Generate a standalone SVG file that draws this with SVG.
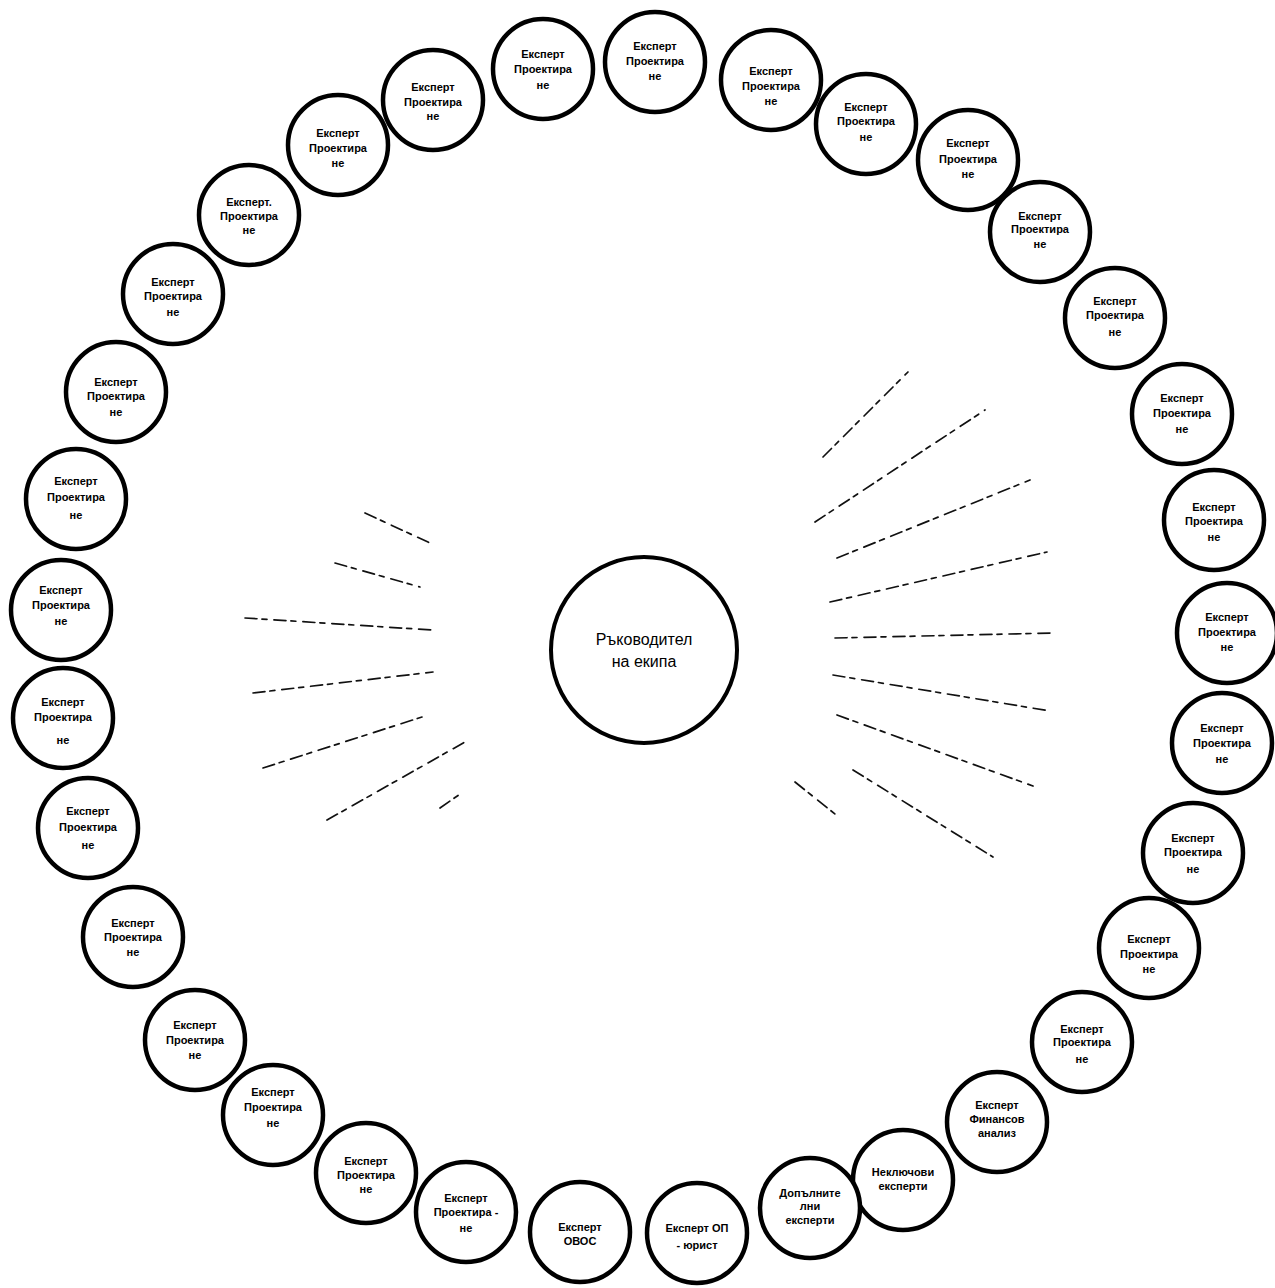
<svg xmlns="http://www.w3.org/2000/svg" width="1275" height="1288" viewBox="0 0 1275 1288">
<style>
.n{fill:#fff;stroke:#000;stroke-width:4.5}
.c{fill:#fff;stroke:#000;stroke-width:4}
.t{font-family:"Liberation Sans","DejaVu Sans",sans-serif;font-size:11px;font-weight:bold;fill:#000;text-anchor:middle}
.ct{font-family:"Liberation Sans","DejaVu Sans",sans-serif;font-size:16px;fill:#000;text-anchor:middle}
.l{stroke:#111;stroke-width:1.7;fill:none;stroke-dasharray:12 5 5 7;stroke-linecap:round}
</style>
<rect width="1275" height="1288" fill="#fff"/>
<g id="connectors">
<line class="l" x1="823" y1="457" x2="908" y2="372"/>
<line class="l" x1="815" y1="522" x2="985" y2="410"/>
<line class="l" x1="837" y1="558" x2="1030" y2="480"/>
<line class="l" x1="830" y1="602" x2="1047" y2="552"/>
<line class="l" x1="835" y1="638" x2="1053" y2="633"/>
<line class="l" x1="833" y1="675" x2="1050" y2="711"/>
<line class="l" x1="837" y1="715" x2="1033" y2="786"/>
<line class="l" x1="853" y1="770" x2="993" y2="857"/>
<line class="l" x1="795" y1="782" x2="840" y2="818"/>
<line class="l" x1="365" y1="513" x2="430" y2="543"/>
<line class="l" x1="335" y1="563" x2="420" y2="587"/>
<line class="l" x1="245" y1="618" x2="432" y2="630"/>
<line class="l" x1="253" y1="693" x2="433" y2="672"/>
<line class="l" x1="263" y1="768" x2="422" y2="717"/>
<line class="l" x1="327" y1="820" x2="465" y2="742"/>
<line class="l" x1="440" y1="808" x2="463" y2="792"/>
</g>
<g id="center">
<circle class="c" cx="644" cy="650" r="93"/>
<text class="ct" x="644" y="645">Ръководител</text>
<text class="ct" x="644" y="667">на екипа</text>
</g>
<g id="n1"><circle class="n" cx="655" cy="62" r="50"/><text class="t" x="655" y="50">Експерт</text><text class="t" x="655" y="65">Проектира</text><text class="t" x="655" y="80">не</text></g>
<g id="n2"><circle class="n" cx="543" cy="69" r="50"/><text class="t" x="543" y="58">Експерт</text><text class="t" x="543" y="73">Проектира</text><text class="t" x="543" y="89">не</text></g>
<g id="n3"><circle class="n" cx="771" cy="80" r="50"/><text class="t" x="771" y="75">Експерт</text><text class="t" x="771" y="90">Проектира</text><text class="t" x="771" y="105">не</text></g>
<g id="n4"><circle class="n" cx="433" cy="100" r="50"/><text class="t" x="433" y="91">Експерт</text><text class="t" x="433" y="106">Проектира</text><text class="t" x="433" y="120">не</text></g>
<g id="n5"><circle class="n" cx="866" cy="124" r="50"/><text class="t" x="866" y="111">Експерт</text><text class="t" x="866" y="125">Проектира</text><text class="t" x="866" y="141">не</text></g>
<g id="n6"><circle class="n" cx="338" cy="145" r="50"/><text class="t" x="338" y="137">Експерт</text><text class="t" x="338" y="152">Проектира</text><text class="t" x="338" y="167">не</text></g>
<g id="n7"><circle class="n" cx="968" cy="160" r="50"/><text class="t" x="968" y="147">Експерт</text><text class="t" x="968" y="163">Проектира</text><text class="t" x="968" y="178">не</text></g>
<g id="n8"><circle class="n" cx="249" cy="215" r="50"/><text class="t" x="249" y="206">Експерт.</text><text class="t" x="249" y="220">Проектира</text><text class="t" x="249" y="234">не</text></g>
<g id="n9"><circle class="n" cx="1040" cy="232" r="50"/><text class="t" x="1040" y="220">Експерт</text><text class="t" x="1040" y="233">Проектира</text><text class="t" x="1040" y="248">не</text></g>
<g id="n10"><circle class="n" cx="173" cy="294" r="50"/><text class="t" x="173" y="286">Експерт</text><text class="t" x="173" y="300">Проектира</text><text class="t" x="173" y="316">не</text></g>
<g id="n11"><circle class="n" cx="1115" cy="318" r="50"/><text class="t" x="1115" y="305">Експерт</text><text class="t" x="1115" y="319">Проектира</text><text class="t" x="1115" y="336">не</text></g>
<g id="n12"><circle class="n" cx="116" cy="392" r="50"/><text class="t" x="116" y="386">Експерт</text><text class="t" x="116" y="400">Проектира</text><text class="t" x="116" y="416">не</text></g>
<g id="n13"><circle class="n" cx="1182" cy="414" r="50"/><text class="t" x="1182" y="402">Експерт</text><text class="t" x="1182" y="417">Проектира</text><text class="t" x="1182" y="433">не</text></g>
<g id="n14"><circle class="n" cx="76" cy="499" r="50"/><text class="t" x="76" y="485">Експерт</text><text class="t" x="76" y="501">Проектира</text><text class="t" x="76" y="519">не</text></g>
<g id="n15"><circle class="n" cx="1214" cy="520" r="50"/><text class="t" x="1214" y="511">Експерт</text><text class="t" x="1214" y="525">Проектира</text><text class="t" x="1214" y="541">не</text></g>
<g id="n16"><circle class="n" cx="61" cy="610" r="50"/><text class="t" x="61" y="594">Експерт</text><text class="t" x="61" y="609">Проектира</text><text class="t" x="61" y="625">не</text></g>
<g id="n17"><circle class="n" cx="1227" cy="633" r="50"/><text class="t" x="1227" y="621">Експерт</text><text class="t" x="1227" y="636">Проектира</text><text class="t" x="1227" y="651">не</text></g>
<g id="n18"><circle class="n" cx="63" cy="718" r="50"/><text class="t" x="63" y="706">Експерт</text><text class="t" x="63" y="721">Проектира</text><text class="t" x="63" y="744">не</text></g>
<g id="n19"><circle class="n" cx="1222" cy="743" r="50"/><text class="t" x="1222" y="732">Експерт</text><text class="t" x="1222" y="747">Проектира</text><text class="t" x="1222" y="763">не</text></g>
<g id="n20"><circle class="n" cx="88" cy="828" r="50"/><text class="t" x="88" y="815">Експерт</text><text class="t" x="88" y="831">Проектира</text><text class="t" x="88" y="849">не</text></g>
<g id="n21"><circle class="n" cx="1193" cy="853" r="50"/><text class="t" x="1193" y="842">Експерт</text><text class="t" x="1193" y="856">Проектира</text><text class="t" x="1193" y="873">не</text></g>
<g id="n22"><circle class="n" cx="133" cy="937" r="50"/><text class="t" x="133" y="927">Експерт</text><text class="t" x="133" y="941">Проектира</text><text class="t" x="133" y="956">не</text></g>
<g id="n23"><circle class="n" cx="1149" cy="948" r="50"/><text class="t" x="1149" y="943">Експерт</text><text class="t" x="1149" y="958">Проектира</text><text class="t" x="1149" y="973">не</text></g>
<g id="n24"><circle class="n" cx="195" cy="1040" r="50"/><text class="t" x="195" y="1029">Експерт</text><text class="t" x="195" y="1044">Проектира</text><text class="t" x="195" y="1059">не</text></g>
<g id="n25"><circle class="n" cx="1082" cy="1042" r="50"/><text class="t" x="1082" y="1033">Експерт</text><text class="t" x="1082" y="1046">Проектира</text><text class="t" x="1082" y="1063">не</text></g>
<g id="n26"><circle class="n" cx="273" cy="1115" r="50"/><text class="t" x="273" y="1096">Експерт</text><text class="t" x="273" y="1111">Проектира</text><text class="t" x="273" y="1127">не</text></g>
<g id="n27"><circle class="n" cx="997" cy="1122" r="50"/><text class="t" x="997" y="1109">Експерт</text><text class="t" x="997" y="1123">Финансов</text><text class="t" x="997" y="1137">анализ</text></g>
<g id="n28"><circle class="n" cx="366" cy="1173" r="50"/><text class="t" x="366" y="1165">Експерт</text><text class="t" x="366" y="1179">Проектира</text><text class="t" x="366" y="1193">не</text></g>
<g id="n29"><circle class="n" cx="903" cy="1180" r="50"/><text class="t" x="903" y="1176">Неключови</text><text class="t" x="903" y="1190">експерти</text></g>
<g id="n30"><circle class="n" cx="466" cy="1212" r="50"/><text class="t" x="466" y="1202">Експерт</text><text class="t" x="466" y="1216">Проектира -</text><text class="t" x="466" y="1232">не</text></g>
<g id="n31"><circle class="n" cx="810" cy="1208" r="50"/><text class="t" x="810" y="1197">Допълните</text><text class="t" x="810" y="1210">лни</text><text class="t" x="810" y="1224">експерти</text></g>
<g id="n32"><circle class="n" cx="580" cy="1232" r="50"/><text class="t" x="580" y="1231">Експерт</text><text class="t" x="580" y="1245">ОВОС</text></g>
<g id="n33"><circle class="n" cx="697" cy="1233" r="50"/><text class="t" x="697" y="1232">Експерт ОП</text><text class="t" x="697" y="1249">- юрист</text></g>
</svg>
